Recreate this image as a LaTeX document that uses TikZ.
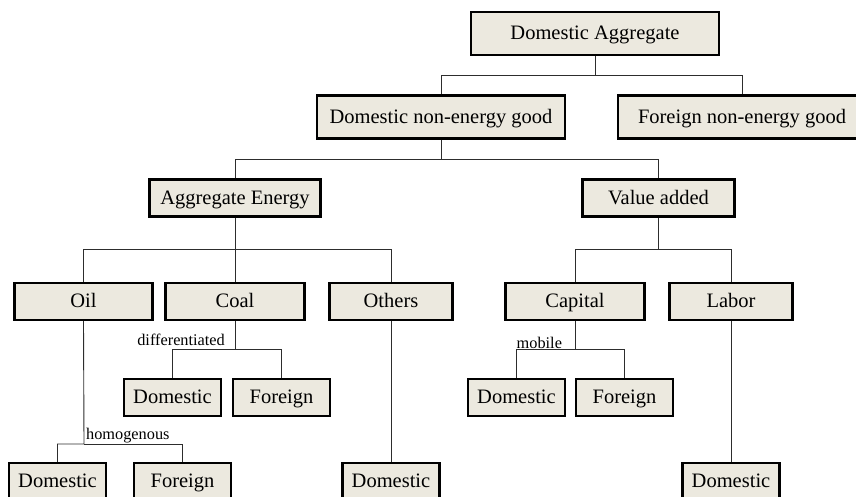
\documentclass[tikz,border=0pt]{standalone}
\usepackage{fontspec}
\setmainfont{Liberation Serif}
\usetikzlibrary{positioning}

\definecolor{boxfill}{RGB}{236,233,223}
\definecolor{wiregray}{RGB}{45,45,45}

\begin{document}
\begin{tikzpicture}[
    x=1bp, y=-1bp,
    good/.style={rectangle, draw=black, fill=boxfill, line width=2.4bp, inner sep=0pt, text height=15bp, text depth=2.5bp, font=\fontsize{20.5bp}{24bp}\selectfont},
    wide/.style={good, minimum width=248bp, minimum height=43bp},
    mid/.style={good, minimum height=37bp},
    small/.style={good, minimum width=97bp, minimum height=37bp},
    remark/.style={inner sep=0pt, font=\fontsize{16.3bp}{19bp}\selectfont},
    wire/.style={draw=wiregray, line width=0.9bp}
]
\useasboundingbox (0,0) rectangle (856,497);

% Top level
\node[wide] (da) at (595,33.5) {Domestic Aggregate};
\node[wide] (dneg) at (441,117) {Domestic non-energy good};
\node[wide] (fneg) at (742,117) {Foreign non-energy good};

% Energy and value added
\node[mid, minimum width=171bp] (ae) at (235,198) {Aggregate Energy};
\node[mid, minimum width=152bp] (va) at (658.5,198) {Value added};

% Inputs
\node[mid, minimum width=138bp] (oil) at (83.5,301.5) {Oil};
\node[mid, minimum width=139bp] (coal) at (235,301.5) {Coal};
\node[mid, minimum width=123bp] (others) at (391,301.5) {Others};
\node[mid, minimum width=139bp] (capital) at (575,301.5) {Capital};
\node[mid, minimum width=123bp] (labor) at (731,301.5) {Labor};

% Sources
\node[small] (coaldom) at (172.5,397.5) {Domestic};
\node[small] (coalfor) at (281.5,397.5) {Foreign};
\node[small] (capdom) at (516.5,397.5) {Domestic};
\node[small] (capfor) at (624.5,397.5) {Foreign};
\node[small] (oildom) at (57.5,481.5) {Domestic};
\node[small] (oilfor) at (182.5,481.5) {Foreign};
\node[small] (othdom) at (391,481.5) {Domestic};
\node[small] (labdom) at (731,481.5) {Domestic};

% Junctions
\coordinate (j1) at (595,75);
\coordinate (j2) at (441,159);
\coordinate (j3) at (235,249);
\coordinate (j4) at (658.5,249);
\coordinate (j5) at (235,349);
\coordinate (j6) at (84,444);
\coordinate (j7) at (575,349);

% Tree connections
\draw[wire] (da.south) -- (j1) -| (dneg.north);
\draw[wire] (j1) -| (fneg.north);
\draw[wire] (dneg.south) -- (j2) -| (ae.north);
\draw[wire] (j2) -| (va.north);
\draw[wire] (ae.south) -- (j3) -| (oil.north);
\draw[wire] (j3) -- (coal.north);
\draw[wire] (j3) -| (others.north);
\draw[wire] (va.south) -- (j4) -| (capital.north);
\draw[wire] (j4) -| (labor.north);
\draw[wire] (coal.south) -- (j5) -| (coaldom.north);
\draw[wire] (j5) -| (coalfor.north);
\draw[wire] (oil.south) -- (j6) -| (oildom.north);
\draw[wire] (j6) -| (oilfor.north);
\draw[wire] (capital.south) -- (j7) -| (capdom.north);
\draw[wire] (j7) -| (capfor.north);
\draw[wire] (others.south) -- (othdom.north);
\draw[wire] (labor.south) -- (labdom.north);

% Nest notes
\node[remark, anchor=base east] (diff) at ([xshift=-10pt,yshift=4pt]j5) {differentiated};
\node[remark, anchor=south west] (homog) at ([xshift=2pt,yshift=0.5pt]j6) {homogenous};
\node[remark, anchor=south west] (mob) at ([yshift=0.5pt]capdom.north |- j7) {mobile};

\end{tikzpicture}
\end{document}
